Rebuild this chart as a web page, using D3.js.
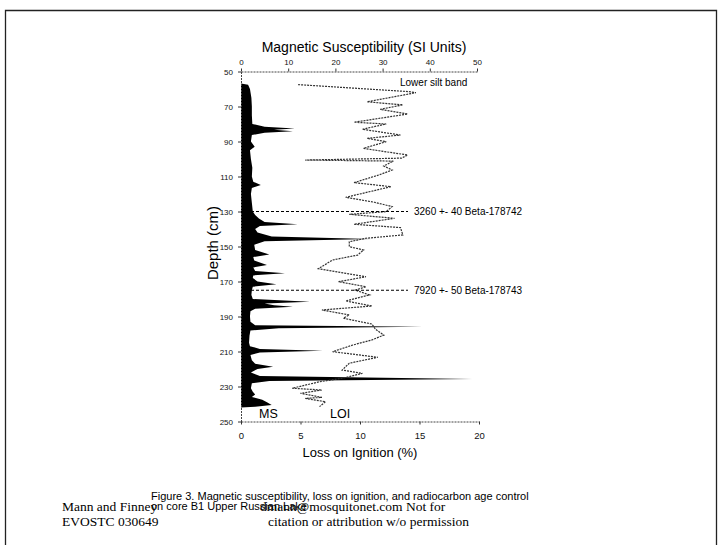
<!DOCTYPE html>
<html>
<head>
<meta charset="utf-8">
<script src="https://cdn.jsdelivr.net/npm/d3@7/dist/d3.min.js"></script>
<style>
  body { margin: 0; background: #fff; }
  svg { display: block; }
  .narrow { font-family: 'Liberation Sans Narrow', 'Arial Narrow', 'Liberation Sans', Arial, sans-serif; }
  .sans { font-family: 'Liberation Sans', Arial, sans-serif; }
  .serif { font-family: 'Liberation Serif', 'Times New Roman', serif; }
</style>
</head>
<body>
<div id="chart"></div>
<script>
// magnetic susceptibility (SI units) by depth (cm)
const msDepth = [56.8, 57.5, 60, 65, 70, 75, 80, 81.5, 82.5, 83.3, 84.2, 85, 86.3, 90, 93, 95,
  100, 105, 110, 113, 114.8, 116.5, 120, 125, 130, 132, 134, 136, 137.3, 138.3, 140, 142,
  144.3, 145.7, 147, 149, 152, 154.5, 156, 158, 160.5, 162, 164, 165.3, 166.5, 168, 170,
  171.5, 173, 175, 177.7, 180, 181.5, 182.5, 183.5, 184.4, 185.5, 187, 190, 193, 195, 195.8,
  196.7, 198, 201, 205, 207, 208.5, 209.5, 210.5, 212, 215, 217, 218.7, 220, 222, 224, 225.7,
  226.8, 228.2, 231, 233, 234.5, 236, 237.5, 239, 240.5, 241.5, 242];
const msValue = [0, 1.5, 1.9, 2.2, 2.3, 2.3, 2.4, 5, 11.4, 7, 11, 5, 2.3, 2.1, 2.9, 1.9,
  2.1, 2.4, 2.3, 2.6, 4.2, 2.3, 2.1, 2.3, 2.5, 3.0, 3.8, 5.0, 12, 4.0, 3.0, 3.5,
  6.5, 27.6, 5.0, 2.8, 3.0, 6.0, 2.6, 2.8, 5.5, 2.6, 3.0, 9.3, 2.6, 2.5, 3.5,
  7.5, 2.5, 2.3, 2.2, 2.5, 14.6, 5, 7, 11.0, 3, 2.0, 1.9, 2.0, 3, 38.4,
  8, 2.0, 1.8, 1.7, 1.9, 4, 17.3, 4, 2.0, 2.3, 3, 6.8, 3.5, 2.1, 4.0, 49,
  6, 2.3, 2.1, 2.5, 3, 2.3, 4.5, 5.5, 6.5, 3, 0];

// loss on ignition (%) by depth (cm)
const loiDepth = [57.5, 61.5, 62.1, 67.3, 69.1, 71.6, 74.3, 79.0, 80.0, 83.0, 86.3, 88.2, 90.1,
  93.9, 95.3, 97.7, 99.5, 100.6, 101.2, 104, 106.3, 109.1, 113.5, 115.8, 121.9, 124.7, 127.2,
  130.1, 131.6, 133.9, 137.3, 139.2, 143.4, 145.3, 147.3, 150.1, 152, 154.9, 157.7, 162.7,
  167.3, 170.1, 173, 174.9, 177.7, 181.1, 184, 186.3, 189.1, 191, 194.3, 197.3, 200.6, 203.4,
  206.3, 210.1, 213.3, 216.7, 220.6, 222.5, 225.3, 227.3, 231, 232, 233.9, 236.2, 236.8,
  238.7, 241.5];
const loiValue = [4.8, 14.1, 14.7, 10.6, 13.6, 11.7, 14.0, 9.5, 12.2, 10.2, 13.4, 10.6, 12.2,
  10.3, 11.6, 14.0, 13.5, 5.4, 12.8, 12.0, 12.7, 11.6, 9.5, 12.6, 8.8, 11.2, 12.7,
  12.2, 9.1, 12.9, 9.5, 13.4, 13.6, 10.5, 9.1, 9.1, 10.3, 9.8, 7.7, 6.5,
  10.5, 8.2, 10.5, 9.6, 10.8, 8.8, 11.0, 6.8, 9.1, 8.6, 11.0, 11.3, 12.0, 11.0,
  9.4, 7.7, 11.5, 9.1, 8.5, 10.2, 8.5, 6.6, 4.3, 6.8, 5.0, 6.8, 5.4,
  7.1, 6.6];

const depthTicks = [50, 70, 90, 110, 130, 150, 170, 190, 210, 230, 250];
const msTicks = [0, 10, 20, 30, 40, 50];
const loiTicks = [0, 5, 10, 15, 20];

// radiocarbon dates
const dateDepth = [130, 175];
const dateLabel = ["3260 +- 40 Beta-178742", "7920 +- 50 Beta-178743"];

const width = 722;
const height = 545;

const svg = d3.select("#chart").append("svg")
  .attr("width", width)
  .attr("height", height);

// page border
svg.append("path")
  .attr("d", "M5.5,548 V10.5 H716.5 V548")
  .attr("fill", "none")
  .attr("stroke", "#222")
  .attr("stroke-width", 1.3);

const y = d3.scaleLinear().domain([50, 250]).range([71.5, 421.5]);
const xMS = d3.scaleLinear().domain([0, 50]).range([241, 477]);
const xLOI = d3.scaleLinear().domain([0, 20]).range([241, 479]);

const ms = msDepth.map((d, i) => ({depth: d, value: msValue[i]}));
const loi = loiDepth.map((d, i) => ({depth: d, value: loiValue[i]}));

// MS filled profile
const area = d3.area()
  .y(d => y(d.depth))
  .x0(xMS(0))
  .x1(d => xMS(d.value));

svg.append("path")
  .datum(ms)
  .attr("d", area)
  .attr("fill", "#000");

// LOI line
const line = d3.line()
  .x(d => xLOI(d.value))
  .y(d => y(d.depth));

svg.append("path")
  .datum(loi)
  .attr("d", line)
  .attr("fill", "none")
  .attr("stroke", "#333")
  .attr("stroke-width", 1.2)
  .attr("stroke-dasharray", "2,1");

// axes
function styleAxis(g, size) {
  g.select(".domain").attr("stroke", "#444").attr("stroke-dasharray", "2,1");
  g.selectAll(".tick line").attr("stroke", "#333");
  g.selectAll(".tick text")
    .attr("class", "narrow")
    .attr("font-size", size)
    .attr("fill", "#111");
}

svg.append("g")
  .attr("transform", `translate(0,${y(50)})`)
  .call(d3.axisTop(xMS).tickValues(msTicks).tickSize(3).tickSizeOuter(0).tickPadding(4))
  .call(g => styleAxis(g, "8px"));

svg.append("g")
  .attr("transform", `translate(${xMS(0)},0)`)
  .call(d3.axisLeft(y).tickValues(depthTicks).tickSize(3).tickSizeOuter(0).tickPadding(5))
  .call(g => styleAxis(g, "8px"));

svg.append("g")
  .attr("transform", `translate(0,${y(250)})`)
  .call(d3.axisBottom(xLOI).tickValues(loiTicks).tickSize(3).tickSizeOuter(0).tickPadding(8))
  .call(g => styleAxis(g, "9.5px"));

// radiocarbon lines
svg.selectAll(".date-line")
  .data(dateDepth)
  .enter().append("line")
  .attr("x1", xMS(0))
  .attr("x2", 408)
  .attr("y1", d => y(d))
  .attr("y2", d => y(d))
  .attr("stroke", "#000")
  .attr("stroke-width", 1.2)
  .attr("stroke-dasharray", "3,2");

svg.selectAll(".date-label")
  .data(dateLabel)
  .enter().append("text")
  .attr("class", "sans")
  .attr("x", 414)
  .attr("y", (d, i) => y(dateDepth[i]) + 3.5)
  .attr("font-size", "10px")
  .text(d => d);

// titles and labels
svg.append("text")
  .attr("class", "narrow")
  .attr("x", 364).attr("y", 51.5)
  .attr("text-anchor", "middle")
  .attr("font-size", "14px")
  .text("Magnetic Susceptibility (SI Units)");

svg.append("text")
  .attr("class", "narrow")
  .attr("x", 360).attr("y", 457)
  .attr("text-anchor", "middle")
  .attr("font-size", "13px")
  .text("Loss on Ignition (%)");

svg.append("text")
  .attr("class", "sans")
  .attr("transform", "translate(218,243) rotate(-90)")
  .attr("text-anchor", "middle")
  .attr("font-size", "15px")
  .text("Depth (cm)");

svg.append("text")
  .attr("class", "sans")
  .attr("x", 400).attr("y", 85.5)
  .attr("font-size", "10px")
  .text("Lower silt band");

svg.append("text")
  .attr("class", "sans")
  .attr("x", 259).attr("y", 418)
  .attr("font-size", "12.5px")
  .text("MS");

svg.append("text")
  .attr("class", "sans")
  .attr("x", 330).attr("y", 418)
  .attr("font-size", "12.5px")
  .text("LOI");

// caption and footer
svg.append("text")
  .attr("class", "sans")
  .attr("x", 151).attr("y", 500)
  .attr("font-size", "11px")
  .text("Figure 3. Magnetic susceptibility, loss on ignition, and radiocarbon age control");

svg.append("text")
  .attr("class", "sans")
  .attr("x", 151).attr("y", 510)
  .attr("font-size", "11px")
  .text("on core B1 Upper Russian Lake");

const footLeft = ["Mann and Finney", "EVOSTC 030649"];
const footRight = ["dmann@mosquitonet.com Not for", "citation or attribution w/o permission"];
const footX = [260, 268];

svg.selectAll(".foot-left")
  .data(footLeft)
  .enter().append("text")
  .attr("class", "serif")
  .attr("x", 62)
  .attr("y", (d, i) => 511 + i * 15)
  .attr("font-size", "13.5px")
  .text(d => d);

svg.selectAll(".foot-right")
  .data(footRight)
  .enter().append("text")
  .attr("class", "serif")
  .attr("x", (d, i) => footX[i])
  .attr("y", (d, i) => 511 + i * 15)
  .attr("font-size", "13.5px")
  .text(d => d);
</script>
</body>
</html>
